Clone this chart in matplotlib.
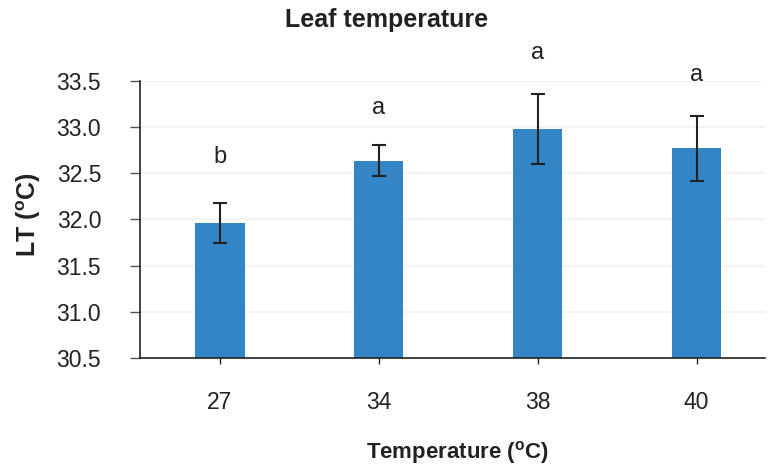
import matplotlib
matplotlib.use("Agg")
import matplotlib.pyplot as plt

plt.rcParams['font.family'] = ['Liberation Sans', 'DejaVu Sans']
plt.rcParams['mathtext.fontset'] = 'custom'
plt.rcParams['mathtext.rm'] = 'Liberation Sans'
plt.rcParams['mathtext.bf'] = 'Liberation Sans:bold'

temps = ['27', '34', '38', '40']
lt_mean = [31.96, 32.63, 32.98, 32.77]
err_low = [0.22, 0.16, 0.38, 0.35]
err_high = [0.22, 0.17, 0.38, 0.35]
letters = ['b', 'a', 'a', 'a']
letter_y = [32.67, 33.20, 33.80, 33.56]
yticks = [30.5, 31.0, 31.5, 32.0, 32.5, 33.0, 33.5]

fig = plt.figure(figsize=(7.69, 4.66), dpi=100)
ax = fig.add_axes([140 / 769, 108 / 466, 625 / 769, 277.3 / 466])

x = list(range(len(temps)))
ax.bar(x, lt_mean, width=0.31, color='#3385c6', zorder=2)
ax.errorbar(x, lt_mean, yerr=[err_low, err_high], fmt='none', ecolor='#222222',
            elinewidth=1.5, capsize=5, capthick=1.5, zorder=3)
for xi, lab, ly in zip(x, letters, letter_y):
    ax.text(xi, ly, lab, ha='center', va='center', fontsize=17, color='#222222',
            clip_on=False)

ax.set_ylim(30.5, 33.5)
ax.set_xlim(-0.503, 3.43)
ax.set_yticks(yticks)
ax.set_yticklabels(['%.1f' % v for v in yticks])
ax.set_xticks(x)
ax.set_xticklabels(temps)
ax.yaxis.grid(True, color='#f2f2f2', linewidth=1.2, zorder=0)
ax.set_axisbelow(True)
for s in ['top', 'right']:
    ax.spines[s].set_visible(False)
for s in ['left', 'bottom']:
    ax.spines[s].set_color('#222222')
    ax.spines[s].set_linewidth(1.2)
ax.tick_params(axis='y', length=7, width=1, color='#555555', labelsize=16.5,
               labelcolor='#222222', pad=21)
ax.tick_params(axis='x', length=4, width=1, color='#222222', labelsize=16.5,
               labelcolor='#222222', pad=20)

fig.text(387 / 769, 1 - 20 / 466, 'Leaf temperature', ha='center', va='center',
         fontsize=18, fontweight='bold', color='#222222')
fig.text(458 / 769, 1 - 452 / 466, r'Temperature ($^{\mathbf{o}}$C)', ha='center',
         va='center', fontsize=16, fontweight='bold', color='#222222')
fig.text(29 / 769, 1 - 215 / 466, r'LT ($^{\mathbf{o}}$C)', ha='center',
         va='center', rotation=90, fontsize=18, fontweight='bold', color='#222222')

fig.savefig('out.png', dpi=100)
